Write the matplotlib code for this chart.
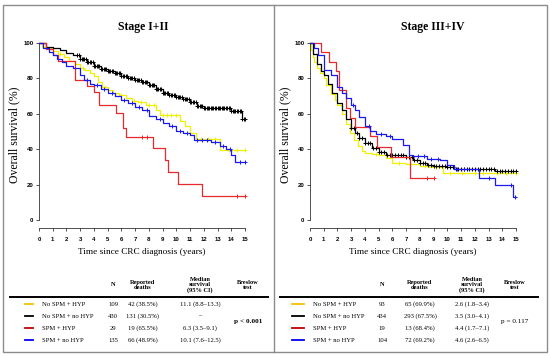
import numpy as np
import matplotlib
matplotlib.use("Agg")
import matplotlib.pyplot as plt
from matplotlib.lines import Line2D
from matplotlib.patches import Rectangle

W, H = 550, 356
SERIF = "Liberation Serif"
SANS = "Liberation Sans"

groups = ["No SPM + HYP", "No SPM + no HYP", "SPM + HYP", "SPM + no HYP"]
curve_colors = ["#f0f000", "#000000", "#e8292b", "#1a1aee"]
legend_colors = ["#f5c000", "#000000", "#c00000", "#0000ee"]

# ---- Stage I+II ----
e_yel_t = [0, 0.2, 0.5, 1.0, 1.4, 1.8, 2.2, 2.6, 3.0, 3.3, 3.7, 4.0, 4.3, 4.6, 5.0, 5.4,
           5.8, 6.3, 6.8, 7.2, 7.8, 8.5, 8.8, 10.3, 10.6, 11.0, 11.4, 13.2]
e_yel_s = [100, 98, 97, 95.5, 94, 92, 90, 88, 86, 85, 83, 81.5, 78, 75, 73.5, 72,
           70.5, 69, 67.5, 66.5, 65, 62, 59.5, 56, 53, 49, 46, 39.5]
e_yel_c = [1.5, 3.2, 4.8, 6.0, 6.9, 7.4, 8.0, 8.4, 9.0, 9.3, 9.6, 10.0, 11.8, 12.3, 12.8, 13.8, 14.4, 15.0]

e_blk_t = [0, 0.5, 1.0, 1.5, 2.0, 2.5, 3.0, 3.5, 4.0, 4.5, 5.0, 5.5, 6.0, 6.5, 7.0, 7.5,
           8.0, 8.5, 9.0, 9.5, 10.0, 10.5, 11.0, 11.5, 12.0, 13.0, 14.0, 14.8]
e_blk_s = [100, 98, 97, 96, 94.5, 93, 91, 89, 87, 85.5, 84, 83, 81.5, 80.5, 79, 78,
           76.5, 74, 72, 70.5, 69.5, 68.5, 66.5, 64.5, 63.5, 63, 61.5, 57]
e_blk_c = list(np.arange(2.8, 15.01, 0.1))

e_red_t = [0, 0.5, 1.0, 1.4, 2.6, 3.5, 4.0, 4.4, 5.6, 6.1, 6.3, 8.3, 9.2, 9.4, 10.1, 11.9]
e_red_s = [100, 96.6, 93.1, 89.7, 79.3, 75.9, 72.4, 65.0, 60.5, 52, 47, 40.5, 34, 27, 20.3, 13.5]
e_red_c = [7.5, 7.9, 14.4, 15.0]

e_blu_t = [0, 0.3, 0.7, 1.0, 1.3, 1.7, 2.0, 2.5, 3.0, 3.3, 3.7, 4.0, 4.5, 5.0, 5.5, 6.0,
           6.5, 7.0, 7.5, 8.0, 8.5, 9.0, 9.5, 10.0, 10.5, 11.0, 11.3, 12.5, 13.2, 13.6, 14.0, 14.3]
e_blu_s = [100, 97, 95, 93, 91, 89, 87, 86, 82, 79, 77, 76, 74, 71.5, 70, 68,
           66, 64, 62, 59, 57, 55, 53, 50.5, 49, 48, 45, 44, 42, 40, 37, 33]
e_blu_c = [3.5, 4.2, 4.7, 5.3, 6.2, 6.8, 7.3, 7.9, 8.8, 9.7, 10.3, 10.8, 11.5, 11.9, 12.2, 12.8, 13.4, 13.9, 14.6, 15.0]

# ---- Stage III+IV ----
l_yel_t = [0, 0.1, 0.2, 0.3, 0.5, 0.7, 1.0, 1.2, 1.5, 1.8, 2.0, 2.3, 2.6, 2.9, 3.2, 3.5,
           3.8, 4.0, 4.5, 5.0, 5.5, 6.0, 7.0, 8.0, 8.7, 9.7]
l_yel_s = [100, 96, 92, 89, 86, 83, 80, 76, 71, 68, 65, 60, 54, 49, 45, 42,
           39, 38, 37.5, 36.5, 35, 32, 31.5, 30.5, 30, 26.5]
l_yel_c = [4.8, 6.5, 8.4, 9.2, 10.2, 11.1, 12.0, 12.6, 13.6, 14.3, 15.0]

l_blk_t = [0, 0.2, 0.5, 0.8, 1.0, 1.3, 1.6, 2.0, 2.3, 2.6, 3.0, 3.3, 3.6, 4.0, 4.5, 5.0,
           5.5, 6.0, 7.0, 7.5, 8.0, 8.5, 9.0, 10.0, 10.5, 13.5]
l_blk_s = [100, 94, 88, 84, 82, 77, 72, 66, 62, 57, 52, 49, 46.5, 43.5, 40.5, 38.5,
           37, 36.5, 35.5, 34, 32, 31, 30.5, 29.8, 29, 27.5]
l_blk_c = list(np.arange(3.0, 15.01, 0.2))

l_red_t = [0, 0.8, 1.4, 1.9, 2.1, 2.6, 2.9, 3.3, 4.4, 4.9, 5.9, 7.3]
l_red_s = [100, 94.7, 89.5, 84.2, 73.7, 63.2, 57.9, 52.6, 47.4, 41.1, 35.5, 23.7]
l_red_c = [8.5, 9.0]
l_red_end = 9.0

l_blu_t = [0, 0.3, 0.6, 1.0, 1.5, 2.0, 2.3, 2.6, 3.0, 3.3, 3.6, 4.0, 4.4, 4.8, 5.5, 6.0,
           6.8, 7.2, 7.5, 8.5, 9.5, 10.0, 10.5, 12.3, 13.5, 14.8]
l_blu_s = [100, 97, 93, 85, 82, 75, 72, 69, 65, 62, 58, 53, 50.5, 48.5, 47.5, 46,
           42.5, 37, 36, 34.5, 34, 31, 29, 23.5, 19.5, 13]
l_blu_c = [3.1, 4.3, 5.2, 5.8, 7.9, 8.3, 8.8, 9.3, 10.7, 11.2, 13.0, 14.6, 14.9]

# table values
early_n = ["109", "430", "29", "135"]
early_deaths = ["42 (38.5%)", "131 (30.5%)", "19 (65.5%)", "66 (48.9%)"]
early_median = ["11.1 (8.8\u201313.3)", "\u2013", "6.3 (3.5\u20139.1)", "10.1 (7.6\u201312.5)"]
early_p = "p < 0.001"
late_n = ["93", "434", "19", "104"]
late_deaths = ["65 (69.9%)", "293 (67.5%)", "13 (68.4%)", "72 (69.2%)"]
late_median = ["2.6 (1.8\u20133.4)", "3.5 (3.0\u20134.1)", "4.4 (1.7\u20137.1)", "4.6 (2.6\u20136.5)"]
late_p = "p = 0.117"

fig = plt.figure(figsize=(W / 100, H / 100), dpi=100)


def fx(x):
    return x / W


def fy(y):
    return 1 - y / H


def surv_at(t, s, x):
    i = np.searchsorted(t, x, side="right") - 1
    return s[max(i, 0)]


def km(ax, t, s, cens, color, end=15.0):
    tt = list(t) + [end]
    ss = list(s) + [s[-1]]
    ax.step(tt, ss, where="post", color=color, lw=0.9, clip_on=False)
    cy = [surv_at(t, s, c) for c in cens]
    ax.plot(cens, cy, ls="none", marker="+", ms=3.2, mew=0.7, color=color, clip_on=False)


def make_axes(x0, curves):
    # y: 100 at px 43, 0 at px 220; x: 0..15 over 206 px
    ppu = 177 / 100.0
    ymin, ymax = -4.5, 101
    bottom = 220 + (0 - ymin) * ppu
    top = 43 - (ymax - 100) * ppu
    ax = fig.add_axes([fx(x0), fy(bottom), fx(206), (bottom - top) / H])
    ax.set_xlim(0, 15)
    ax.set_ylim(ymin, ymax)
    for sp in ["top", "right"]:
        ax.spines[sp].set_visible(False)
    ax.spines["left"].set_bounds(0, 100)
    ax.spines["bottom"].set_bounds(0, 15)
    for sp in ["left", "bottom"]:
        ax.spines[sp].set_linewidth(0.6)
        ax.spines[sp].set_color("#333333")
    ax.set_xticks(range(16))
    ax.set_yticks(range(0, 101, 20))
    ax.tick_params(length=2.5, width=0.6, pad=1.5, labelsize=4.3, color="#333333")
    for lab in ax.get_xticklabels() + ax.get_yticklabels():
        lab.set_fontfamily(SANS)
        lab.set_fontweight("bold")
    ax.tick_params(axis="x", pad=4)
    ax.set_ylabel("Overall survival (%)", fontfamily=SERIF, fontsize=8.5, labelpad=2)
    ax.set_xlabel("Time since CRC diagnosis (years)", fontfamily=SERIF, fontsize=6.7, labelpad=4.5)
    for c in curves:
        km(ax, *c)
    return ax


make_axes(39, [
    (e_yel_t, e_yel_s, e_yel_c, curve_colors[0]),
    (e_blk_t, e_blk_s, e_blk_c, curve_colors[1]),
    (e_red_t, e_red_s, e_red_c, curve_colors[2]),
    (e_blu_t, e_blu_s, e_blu_c, curve_colors[3]),
])
make_axes(310, [
    (l_yel_t, l_yel_s, l_yel_c, curve_colors[0]),
    (l_blk_t, l_blk_s, l_blk_c, curve_colors[1]),
    (l_red_t, l_red_s, l_red_c, curve_colors[2], l_red_end),
    (l_blu_t, l_blu_s, l_blu_c, curve_colors[3]),
])

fig.text(fx(143), fy(27), "Stage I+II", ha="center", va="center",
         fontfamily=SERIF, fontweight="bold", fontsize=8.5)
fig.text(fx(433), fy(27), "Stage III+IV", ha="center", va="center",
         fontfamily=SERIF, fontweight="bold", fontsize=8.5)

# outer frame and divider
fig.patches.append(Rectangle((fx(3), fy(352)), fx(544), (352 - 5) / H, transform=fig.transFigure,
                             fill=False, edgecolor="#8c8c8c", lw=1.0))
fig.lines.append(Line2D([fx(274), fx(274)], [fy(5), fy(352)], transform=fig.transFigure,
                        color="#8c8c8c", lw=1.0))


def table(cols, line_x, lab_x, rule, n, deaths, median, p, p_bold):
    hdr = dict(fontfamily=SERIF, fontweight="bold", fontsize=4.6, ha="center", va="center",
               linespacing=1.05)
    body = dict(fontfamily=SERIF, fontsize=4.8, va="center")
    fig.text(fx(cols[0]), fy(285), "N", **hdr)
    fig.text(fx(cols[1]), fy(285), "Reported\ndeaths", **hdr)
    fig.text(fx(cols[2]), fy(285), "Median\nsurvival\n(95% CI)", **hdr)
    fig.text(fx(cols[3]), fy(285), "Breslow\ntest", **hdr)
    fig.lines.append(Line2D([fx(rule[0]), fx(rule[1])], [fy(297), fy(297)],
                            transform=fig.transFigure, color="black", lw=1.4))
    rows_y = [304, 316, 328, 340]
    for i, y in enumerate(rows_y):
        fig.lines.append(Line2D([fx(line_x[0]), fx(line_x[1])], [fy(y), fy(y)],
                                transform=fig.transFigure, color=legend_colors[i], lw=1.3))
        fig.text(fx(lab_x), fy(y), groups[i], ha="left", **body)
        fig.text(fx(cols[0]), fy(y), n[i], ha="center", **body)
        fig.text(fx(cols[1]), fy(y), deaths[i], ha="center", **body)
        fig.text(fx(cols[2]), fy(y), median[i], ha="center", **body)
    fig.text(fx(cols[3]), fy(321), p, ha="center", va="center", fontfamily=SERIF,
             fontsize=5.2, fontweight="bold" if p_bold else "normal")


table([113, 143, 200, 248], (25, 33), 42, (10, 268),
      early_n, early_deaths, early_median, early_p, True)
table([382, 420, 472, 515], (292, 304), 313, (280, 538),
      late_n, late_deaths, late_median, late_p, False)

fig.savefig("out.png", dpi=100)
